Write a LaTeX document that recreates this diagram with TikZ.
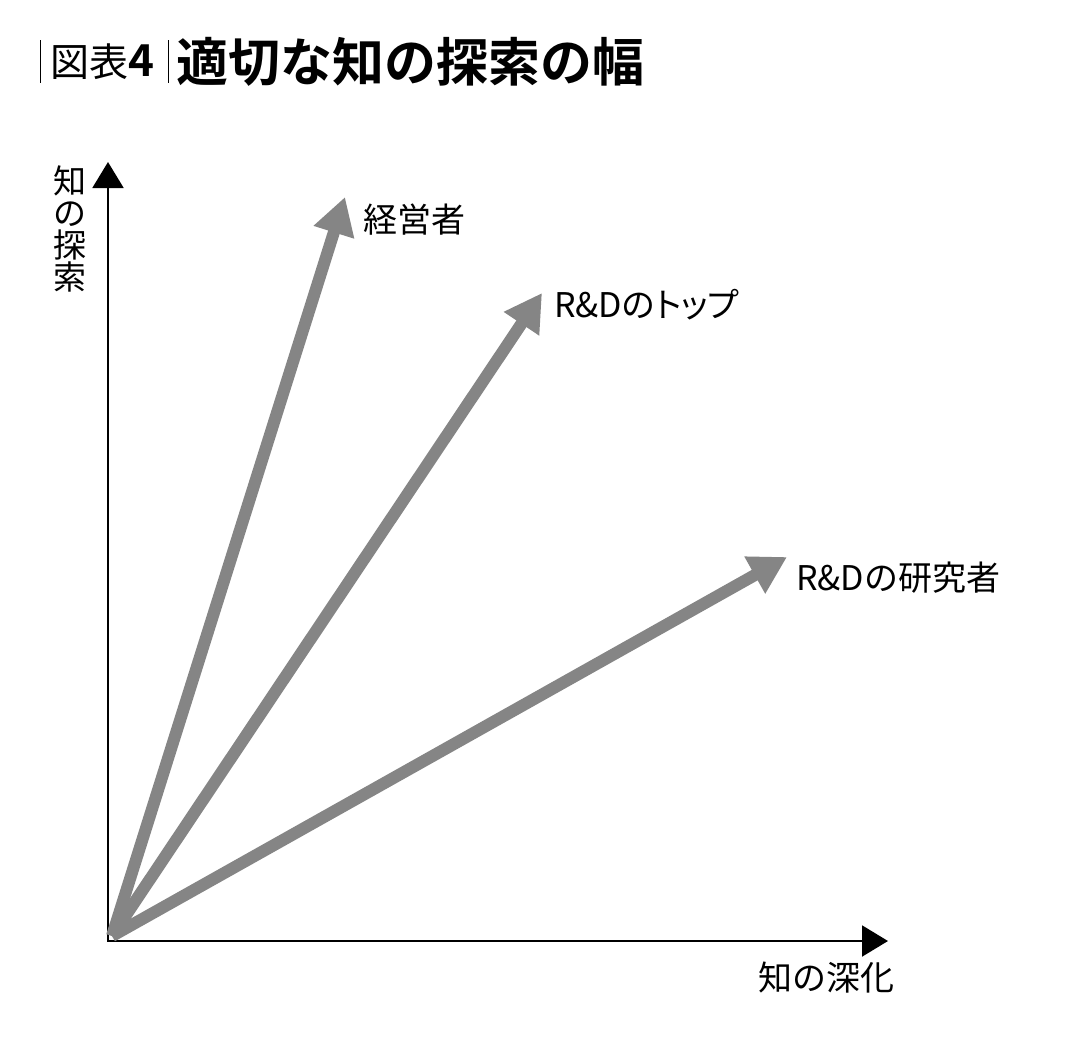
\documentclass[tikz,border=0pt]{standalone}
\usepackage{fontspec}
\setmainfont{Noto Sans CJK JP}[BoldFont={Noto Sans CJK JP Bold}]
\newfontfamily\jppalt{Noto Sans CJK JP}[RawFeature=+palt]
\usetikzlibrary{arrows.meta}
\definecolor{arrgray}{HTML}{858585}
\tikzset{
  axisline/.style={line width=2pt, black, -{Triangle[length=26pt,width=31pt]}},
  grayarrow/.style={line width=12pt, arrgray, -{Triangle[length=37pt,width=40pt]}},
  lbl/.style={font=\fontsize{34}{36}\selectfont, anchor=west, inner sep=0pt},
  titlebar/.style={line width=1pt, black}
}
\begin{document}
\begin{tikzpicture}[x=1pt,y=-1pt]
\useasboundingbox[fill=white] (0,0) rectangle (1080,1050);
% title
\coordinate (b1t) at (40,40); \coordinate (b1b) at (40,83);
\coordinate (b2t) at (168,40); \coordinate (b2b) at (168,83);
\draw[titlebar] (b1t) -- (b1b);
\draw[titlebar] (b2t) -- (b2b);
\node[anchor=west, inner sep=0pt, font=\fontsize{39}{42}\selectfont] (fig) at (50,62) {図表\textbf{\fontsize{44}{46}\selectfont 4}};
\node[anchor=west, inner sep=0pt, font=\fontsize{52}{54}\selectfont\bfseries] (title) at (176,62) {適切な知の探索の幅};
% axes
\coordinate (o) at (108,941);
\coordinate (ytip) at (108,162);
\coordinate (xtip) at (888,941);
\draw[axisline] ([yshift=1pt]o) -- (ytip);
\draw[axisline] ([xshift=-1pt]o) -- (xtip);
\node[inner sep=0pt, align=center, font=\fontsize{33}{32}\selectfont] (ylab) at (70,229) {知\\の\\探\\索};
\node[lbl] (xlab) at (758,978) {知の深化};
% gray arrows
\coordinate (s) at (112,936);
\coordinate (t1) at (345,197);
\coordinate (t2) at (542,293);
\coordinate (t3) at (787,557);
\draw[grayarrow] (s) -- (t1);
\draw[grayarrow] (s) -- (t2);
\draw[grayarrow] (s) -- (t3);
\node[lbl] (l1) at (363,220) {経営者};
\node[lbl] (l2) at (554,305) {R\&D{\jppalt のトップ}};
\node[lbl] (l3) at (796,578) {R\&Dの研究者};
\end{tikzpicture}
\end{document}
